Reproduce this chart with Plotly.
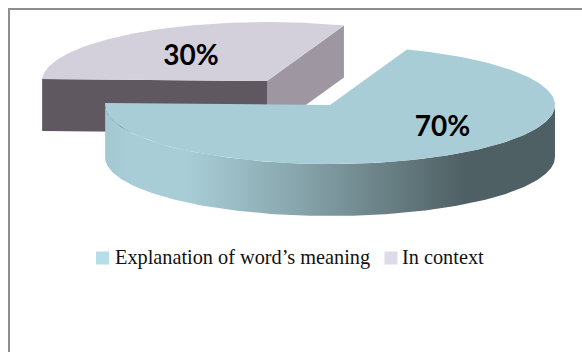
import numpy as np
import plotly.graph_objects as go

categories = ["Explanation of word’s meaning", "In context"]
shares = [70, 30]
value_labels = ["70%", "30%"]

# Pie projection in screen units
RX, RY, DEPTH = 225.0, 59.0, 52.0
FIRST_ANGLE = 70.0
CENTERS = {"In context": (267.0, 81.0), "Explanation of word’s meaning": (330.0, 105.0)}


def rim(cx, cy, a0, a1, n=200):
    t = np.radians(np.linspace(a0, a1, n))
    return cx + RX * np.cos(t), cy - RY * np.sin(t)


fig = go.Figure()


def poly(xs, ys, color=None, gradient=None):
    kw = dict(fillgradient=gradient) if gradient else dict(fillcolor=color)
    fig.add_trace(go.Scatter(x=list(xs), y=list(ys), mode="lines", fill="toself",
                             line=dict(width=0), hoverinfo="skip", showlegend=False, **kw))


# Slice angles run counter-clockwise from FIRST_ANGLE, "In context" first
ctx_span = shares[1] / sum(shares) * 360
ctx_a0, ctx_a1 = FIRST_ANGLE, FIRST_ANGLE + ctx_span
exp_a0, exp_a1 = ctx_a1, ctx_a1 + shares[0] / sum(shares) * 360

# Back slice: walls, then the top
cx, cy = CENTERS["In context"]
ex, ey = rim(cx, cy, ctx_a0, ctx_a0, 1)
lx, ly = rim(cx, cy, ctx_a1, ctx_a1, 1)
poly([cx, ex[0], ex[0], cx], [cy, ey[0], ey[0] + DEPTH, cy + DEPTH], "#9E97A1")
poly([lx[0], cx, cx, lx[0]], [ly[0], cy, cy + DEPTH, ly[0] + DEPTH], "#5F5860")
ax, ay = rim(cx, cy, ctx_a0, ctx_a1)
poly(np.r_[cx, ax], np.r_[cy, ay], "#D3CFDB")

# Front slice: curved wall with a horizontal gradient, then the top
cx, cy = CENTERS["Explanation of word’s meaning"]
wx, wy = rim(cx, cy, exp_a0, 360)
poly(np.r_[wx, wx[::-1]], np.r_[wy, wy[::-1] + DEPTH],
     gradient=dict(type="horizontal", colorscale=[
         [0.0, "#A3C8D1"], [0.05, "#A9CDD6"], [0.18, "#A9CDD6"], [0.25, "#9FC2CB"],
         [0.43, "#87A5AC"], [0.61, "#6B8388"], [0.8, "#4F6064"], [1.0, "#4F6064"]]))
ax, ay = rim(cx, cy, exp_a0, exp_a1)
poly(np.r_[cx, ax], np.r_[cy, ay], "#A9CDD6")

# Value labels on the slice tops
fig.add_trace(go.Scatter(x=[442.5, 191], y=[129, 58], mode="text", text=value_labels,
                         textposition="middle center", hoverinfo="skip", showlegend=False,
                         textfont=dict(family="Lato", size=28, color="#000000", weight="bold")))

# Key below the pie
key_x = [102.5, 391]
key_text_x = [115, 402]
key_colors = ["#B6DDE8", "#DFDAE8"]
for x, tx, name, color in zip(key_x, key_text_x, categories, key_colors):
    fig.add_trace(go.Scatter(x=[x], y=[258], mode="markers", hoverinfo="skip", showlegend=False,
                             marker=dict(symbol="square", size=13, color=color, line=dict(width=0))))
    fig.add_trace(go.Scatter(x=[tx], y=[258.5], mode="text", text=[name],
                             textposition="middle right", hoverinfo="skip", showlegend=False,
                             textfont=dict(family="Liberation Serif", size=20.3, color="#111111")))

fig.update_layout(
    width=582, height=352, margin=dict(l=0, r=0, t=0, b=0),
    paper_bgcolor="white", plot_bgcolor="white", showlegend=False,
    xaxis=dict(range=[0, 582], visible=False, fixedrange=True),
    yaxis=dict(range=[352, 0], visible=False, fixedrange=True),
    # Chart frame, running past the right and bottom of the page
    shapes=[dict(type="rect", xref="x", yref="y", x0=9, y0=9, x1=600, y1=370,
                 line=dict(color="#8E8E8E", width=2), layer="below")],
)

fig.write_html("out.html")
